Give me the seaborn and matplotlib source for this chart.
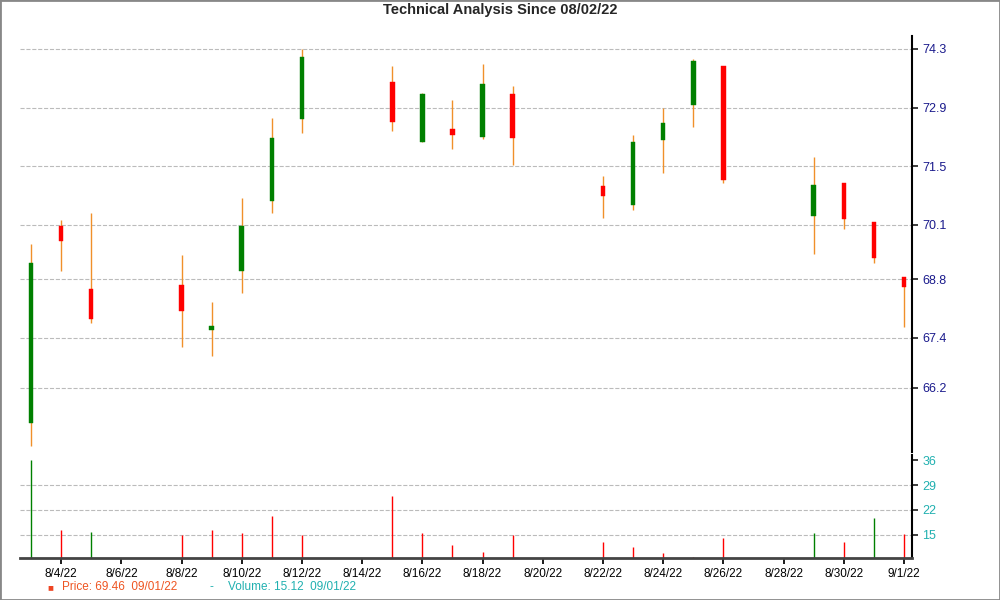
import numpy as np
import pandas as pd
import matplotlib
matplotlib.use("Agg")
import matplotlib.pyplot as plt
import matplotlib.dates as mdates
import seaborn as sns

# daily candles
dates = ["2022-08-03", "2022-08-04", "2022-08-05", "2022-08-08", "2022-08-09", "2022-08-10",
         "2022-08-11", "2022-08-12", "2022-08-15", "2022-08-16", "2022-08-17", "2022-08-18",
         "2022-08-19", "2022-08-22", "2022-08-23", "2022-08-24", "2022-08-25", "2022-08-26",
         "2022-08-29", "2022-08-30", "2022-08-31", "2022-09-01"]
opens = [65.36, 70.07, 68.57, 68.66, 67.59, 69.00, 70.67, 72.63, 73.51, 72.08, 72.39, 72.20,
         73.23, 71.03, 70.57, 72.13, 72.96, 73.89, 70.31, 71.10, 70.17, 68.85]
closes = [69.19, 69.71, 67.85, 68.04, 67.68, 70.07, 72.17, 74.11, 72.56, 73.23, 72.25, 73.46,
          72.17, 70.79, 72.08, 72.53, 74.01, 71.17, 71.05, 70.24, 69.31, 68.61]
highs = [69.64, 70.21, 70.38, 69.38, 68.26, 70.74, 72.65, 74.30, 73.89, 73.25, 73.08, 73.94,
         73.42, 71.27, 72.25, 72.89, 74.05, 73.89, 71.72, 71.10, 70.17, 68.85]
lows = [64.82, 69.00, 67.75, 67.18, 66.97, 68.47, 70.38, 72.29, 72.34, 72.08, 71.91, 72.15,
        71.53, 70.26, 70.45, 71.34, 72.44, 71.10, 69.40, 70.00, 69.19, 67.66]
volumes = [36.0, 16.2, 15.7, 14.8, 16.2, 15.4, 20.4, 14.8, 25.9, 15.4, 12.0, 10.0,
           14.8, 12.8, 11.4, 9.7, 8.6, 14.0, 15.4, 12.8, 19.7, 15.1]
vol_up = [True, False, True, False, False, False, False, False, False, False, False, False,
          False, False, False, False, False, False, True, False, True, False]

price_ticks = [66.2, 67.4, 68.8, 70.1, 71.5, 72.9, 74.3]
vol_ticks = [15, 22, 29, 36]

df = pd.DataFrame({"date": pd.to_datetime(dates), "open": opens, "close": closes,
                   "high": highs, "low": lows, "volume": volumes, "vol_up": vol_up})
df["x"] = mdates.date2num(df["date"])

sns.set_theme(style="white")
plt.rcParams["font.family"] = ["Liberation Sans", "DejaVu Sans"]

fig = plt.figure(figsize=(10, 6), dpi=100)
ax = fig.add_axes([0.02, 0.247, 0.892, 0.7167])
axv = fig.add_axes([0.02, 0.07, 0.892, 0.172], sharex=ax)

up = df["close"] >= df["open"]
body_col = np.where(up, "green", "red")
ax.vlines(df["x"], df["low"], df["high"], color="#f0902a", lw=1, zorder=2)
ax.bar(df["x"], (df["close"] - df["open"]).abs().clip(lower=0.06),
       bottom=np.minimum(df["open"], df["close"]), width=0.15,
       color=body_col, edgecolor=body_col, lw=0.3, zorder=3)

ax.set_ylim(64.67, 74.95)
ax.set_yticks(price_ticks)
ax.yaxis.tick_right()
ax.tick_params(axis="y", labelsize=9, length=4, right=True, direction="out",
               labelcolor="#1a1a8c")
ax.yaxis.grid(True, ls="--", color="#bbbbbb", lw=0.8)
ax.xaxis.grid(False)
for s in ["left", "top", "bottom"]:
    ax.spines[s].set_visible(False)
ax.spines["right"].set_color("black")
ax.spines["right"].set_linewidth(1.5)
ax.spines["right"].set_bounds(64.67, 74.6)
ax.tick_params(axis="x", bottom=False, labelbottom=False)

vcol = np.where(df["vol_up"], "green", "red")
axv.vlines(df["x"], 0, df["volume"], colors=vcol, lw=1)
axv.set_ylim(8.4, 37.6)
axv.set_yticks(vol_ticks)
axv.yaxis.tick_right()
axv.tick_params(axis="y", labelsize=9, length=4, right=True, labelcolor="#20b0b0")
axv.yaxis.grid(True, ls="--", color="#bbbbbb", lw=0.8)
axv.get_ygridlines()[-1].set_visible(False)
for s in ["left", "top"]:
    axv.spines[s].set_visible(False)
axv.spines["right"].set_color("black")
axv.spines["right"].set_linewidth(1.5)
axv.spines["bottom"].set_color("#444444")
axv.spines["bottom"].set_linewidth(2)

x0 = mdates.date2num(pd.Timestamp("2022-08-03"))
axv.set_xlim(x0 - 11 / 30, mdates.date2num(pd.Timestamp("2022-09-01")) + 8 / 30)
axv.xaxis.set_major_locator(mdates.DayLocator(bymonthday=[1, 4, 6, 8, 10, 12, 14, 16, 18, 20,
                                                          22, 24, 26, 28, 30]))
axv.xaxis.set_major_formatter(mdates.DateFormatter("%-m/%-d/%y"))
axv.tick_params(axis="x", labelsize=8.5, bottom=True, length=4, colors="black")

fig.suptitle("Technical Analysis Since 08/02/22", y=0.995, fontsize=10.5, fontweight="bold")
fig.text(0.047, 0.021, "■", color="#ee4422", fontsize=7, va="center")
fig.text(0.062, 0.021, "Price: 69.46  09/01/22", color="#ee5522", fontsize=8.5, va="center")
fig.text(0.21, 0.021, "-", color="#20b0b0", fontsize=8.5, va="center")
fig.text(0.228, 0.021, "Volume: 15.12  09/01/22", color="#20b0b0", fontsize=8.5, va="center")
fig.patches.append(plt.Rectangle((0, 0), 1, 1, transform=fig.transFigure, fill=False,
                                 edgecolor="#888888", lw=2))

fig.savefig("out.png", dpi=100)
